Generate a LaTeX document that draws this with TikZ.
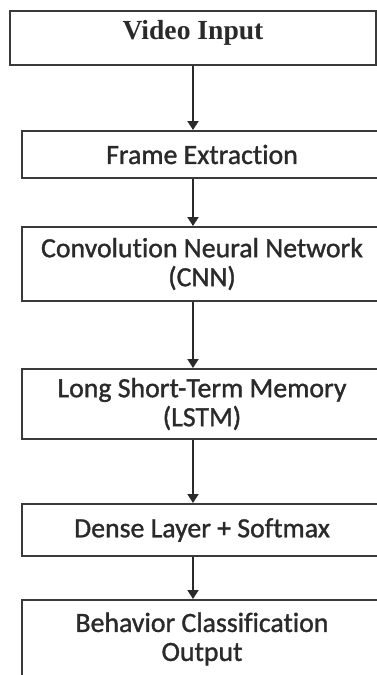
\documentclass[tikz,border=0pt]{standalone}
\usepackage{fontspec}
\setmainfont{Liberation Serif}
\newfontfamily\boxfont[Ligatures=NoCommon, FakeBold=1.2]{Carlito}
\usetikzlibrary{arrows.meta}
\definecolor{ink}{HTML}{2A2A2A}
\definecolor{edge}{HTML}{3A3A3A}
\begin{document}
\begin{tikzpicture}[x=1pt,y=1pt,
  stagebox/.style={draw=edge, line width=2pt, fill=white, rectangle,
    inner sep=0pt, text=ink, align=center, font=\boxfont\fontsize{27.8}{29}\selectfont},
  flow/.style={draw=ink, line width=2pt, -{Triangle[length=9pt,width=11pt]}}]
  \useasboundingbox (0,0) rectangle (377,-675);
  \clip (0,0) rectangle (377,-675);

  % pipeline stages, top to bottom
  \node[stagebox, minimum width=366pt, minimum height=54pt,
        font=\bfseries\fontsize{27.6}{30}\selectfont, text height=12pt, text depth=9pt]
        (video) at (193,-38) {Video Input};
  \node[stagebox, minimum width=360pt, minimum height=47pt]
        (frames) at (202,-154.5) {Frame Extraction};
  \node[stagebox, minimum width=360pt, minimum height=74pt]
        (cnn) at (202,-264) {Convolution Neural Network\\(CNN)};
  \node[stagebox, minimum width=360pt, minimum height=70pt]
        (lstm) at (202,-404) {Long Short-Term Memory\\(LSTM)};
  \node[stagebox, minimum width=360pt, minimum height=52pt]
        (dense) at (202,-530) {Dense Layer + Softmax};
  \node[stagebox, minimum width=360pt, minimum height=78pt]
        (output) at (202,-639) {Behavior Classification\\Output};

  % arrows run down a common column
  \coordinate (col) at (193,0);
  \draw[flow] (video.south -| col) -- (frames.north -| col);
  \draw[flow] (frames.south -| col) -- (cnn.north -| col);
  \draw[flow] (cnn.south -| col) -- (lstm.north -| col);
  \draw[flow] (lstm.south -| col) -- (dense.north -| col);
  \draw[flow] (dense.south -| col) -- (output.north -| col);
\end{tikzpicture}
\end{document}
